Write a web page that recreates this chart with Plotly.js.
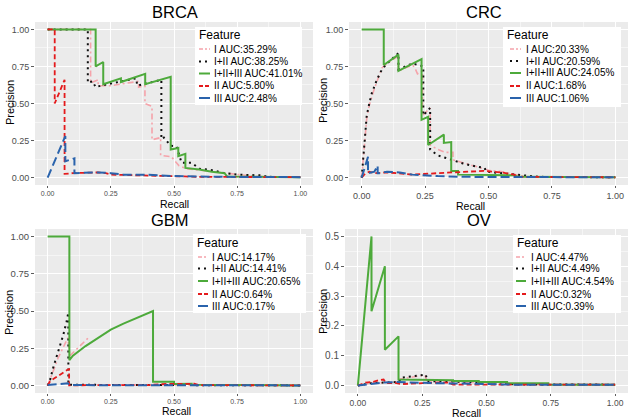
<!DOCTYPE html>
<html><head><meta charset="utf-8">
<script src="https://cdn.plot.ly/plotly-3.0.1.min.js"></script>
<style>html,body{margin:0;padding:0;background:#fff}</style>
</head><body>
<div id="chart" style="width:633px;height:418px"></div>
<script>
// ---------- DATA ----------
const features = ['I', 'I+II', 'I+II+III', 'II', 'III'];
const panelNames = ['BRCA', 'CRC', 'GBM', 'OV'];
const BRCA_AUC = ['35.29%', '38.25%', '41.01%', '5.80%', '2.48%'];
const CRC_AUC  = ['20.33%', '20.59%', '24.05%', '1.68%', '1.06%'];
const GBM_AUC  = ['14.17%', '14.41%', '20.65%', '0.64%', '0.17%'];
const OV_AUC   = ['4.47%', '4.49%', '4.54%', '0.32%', '0.39%'];
const xTickVals = [0, 0.25, 0.5, 0.75, 1];
const xTickText = ['0.00', '0.25', '0.50', '0.75', '1.00'];
const yTickVals = [0, 0.25, 0.5, 0.75, 1];
const yTickText = ['0.00', '0.25', '0.50', '0.75', '1.00'];
const ovTickVals = [0, 0.1, 0.2, 0.3, 0.4, 0.5];
const ovTickText = ['0.0', '0.1', '0.2', '0.3', '0.4', '0.5'];

// BRCA
const BRCA_I_R = [0,0.17,0.17,0.2,0.2,0.25,0.36,0.36,0.385,0.385,0.413,0.413,0.447,0.447,0.49,0.52,0.55,0.6,0.7,0.8,0.87,1];
const BRCA_I_P = [1,1,0.64,0.66,0.62,0.62,0.65,0.61,0.62,0.5,0.48,0.255,0.27,0.15,0.14,0.08,0.06,0.05,0.03,0.012,0.005,0.003];
const BRCA_I2_R = [0,0.159,0.159,0.178,0.19,0.21,0.35,0.355,0.45,0.45,0.46,0.487,0.51,0.53,0.57,0.6,0.65,0.7,0.75,0.85,0.87,1];
const BRCA_I2_P = [1,1,0.64,0.65,0.61,0.62,0.67,0.62,0.66,0.26,0.27,0.215,0.21,0.1,0.1,0.06,0.05,0.03,0.02,0.015,0.005,0.003];
const BRCA_I3_R = [0,0.19,0.19,0.22,0.22,0.29,0.29,0.386,0.386,0.487,0.487,0.517,0.517,0.545,0.545,0.6,0.65,0.7,0.71,1];
const BRCA_I3_P = [1,1,0.75,0.78,0.63,0.67,0.645,0.70,0.63,0.68,0.19,0.2,0.145,0.16,0.065,0.055,0.04,0.03,0.008,0.003];
const BRCA_II_R = [0,0.028,0.028,0.067,0.067,0.1,0.2,0.23,0.25,0.4,0.5,0.6,1];
const BRCA_II_P = [1,1,0.5,0.66,0.025,0.03,0.035,0.03,0.02,0.015,0.008,0.005,0.003];
const BRCA_III_R = [0,0.07,0.07,0.106,0.106,0.2,0.25,0.3,0.4,0.5,0.7,1];
const BRCA_III_P = [0,0.28,0.11,0.13,0.03,0.035,0.03,0.02,0.02,0.01,0.005,0.003];

// CRC
const CRC_I_R = [0,0.005,0.01,0.02,0.03,0.05,0.08,0.1,0.145,0.145,0.2,0.21,0.22,0.24,0.24,0.27,0.27,0.3,0.33,0.36,0.36,0.4,0.45,0.5,0.55,0.6,0.65,1];
const CRC_I_P = [0,0.1,0.22,0.4,0.49,0.6,0.74,0.77,0.82,0.72,0.76,0.74,0.7,0.72,0.42,0.47,0.22,0.19,0.17,0.17,0.12,0.1,0.07,0.05,0.04,0.02,0.005,0.002];
const CRC_I2_R = [0,0.005,0.01,0.015,0.02,0.03,0.04,0.06,0.08,0.1,0.12,0.145,0.145,0.2,0.243,0.243,0.27,0.27,0.3,0.35,0.4,0.45,0.485,0.49,0.55,0.6,0.65,0.7,1];
const CRC_I2_P = [0,0.12,0.25,0.34,0.42,0.5,0.57,0.66,0.73,0.77,0.8,0.84,0.73,0.77,0.75,0.42,0.47,0.19,0.15,0.12,0.095,0.075,0.065,0.04,0.03,0.02,0.01,0.005,0.002];
const CRC_I3_R = [0,0.087,0.087,0.145,0.145,0.236,0.236,0.262,0.262,0.324,0.324,0.353,0.353,0.38,0.38,0.6,0.62,1];
const CRC_I3_P = [1,1,0.76,0.83,0.72,0.80,0.39,0.41,0.22,0.29,0.234,0.24,0.045,0.045,0.02,0.015,0.005,0.002];
const CRC_II_R = [0,0.01,0.03,0.05,0.1,0.15,0.2,0.3,0.4,0.48,0.55,0.6,0.62,1];
const CRC_II_P = [0,0.02,0.04,0.03,0.035,0.03,0.02,0.03,0.04,0.045,0.035,0.02,0.005,0.002];
const CRC_III_R = [0,0.01,0.025,0.025,0.05,0.063,0.063,0.07,0.1,0.15,0.2,0.3,0.4,1];
const CRC_III_P = [0,0.05,0.14,0.03,0.04,0.08,0.03,0.03,0.04,0.035,0.02,0.01,0.005,0.002];

// GBM (null = no line drawn between the points)
const GBM_I_R = [0,0.01,0.04,0.08,0.088,0.167,null,0.17,0.3,1];
const GBM_I_P = [0,0.04,0.18,0.32,0.2,0.33,null,0.005,0.004,0.001];
const GBM_I2_R = [0,0.01,0.022,0.042,0.062,0.075,0.082,0.082,0.2,1];
const GBM_I2_P = [0,0.04,0.12,0.23,0.34,0.43,0.49,0.005,0.004,0.001];
const GBM_I3_R = [0,0.086,0.086,0.1,0.15,0.2,0.25,0.3,0.35,0.417,0.417,0.5,0.5,0.57,0.57,0.67,0.67,1];
const GBM_I3_P = [1,1,0.17,0.2,0.265,0.32,0.375,0.415,0.45,0.5,0.025,0.025,0.01,0.012,0.006,0.005,0.001,0.001];
const GBM_II_R = [0,0.01,0.08,0.085,0.085,0.4,0.45,0.58,0.6,1];
const GBM_II_P = [0,0.03,0.107,0.11,0.002,0.003,0.01,0.012,0.003,0.001];
const GBM_III_R = [0,0.04,0.08,0.09,0.5,1];
const GBM_III_P = [0.003,0.008,0.015,0.003,0.002,0.001];

// OV
const OV_I_R = [0,0.05,0.1,0.16,0.165,0.26,0.27,0.4,0.57,0.6,1];
const OV_I_P = [0,0.008,0.01,0.012,0.022,0.035,0.013,0.01,0.008,0.004,0.003];
const OV_I2_R = [0,0.05,0.1,0.16,0.167,0.264,0.27,0.4,0.57,0.6,1];
const OV_I2_P = [0,0.008,0.01,0.012,0.026,0.037,0.015,0.012,0.01,0.004,0.003];
const OV_I3_R = [0,0.053,0.053,0.105,0.105,0.158,0.158,0.3,0.3,0.37,0.37,0.47,0.47,0.58,0.58,0.74,0.74,1];
const OV_I3_P = [0,0.5,0.249,0.4,0.12,0.165,0.02,0.02,0.018,0.018,0.015,0.015,0.012,0.012,0.008,0.008,0.003,0.003];
const OV_II_R = [0,0.03,0.06,0.08,0.1,0.11,0.15,0.17,0.25,0.35,0.37,0.5,1];
const OV_II_P = [0,0.01,0.012,0.018,0.02,0.008,0.008,0.005,0.008,0.01,0.003,0.003,0.003];
const OV_III_R = [0,0.05,0.1,0.15,0.2,0.3,0.5,0.6,1];
const OV_III_P = [0,0.005,0.01,0.012,0.01,0.008,0.005,0.003,0.003];

// ---------- STYLE ----------
const colors = ['#F5A3AA', '#111111', '#4DAA3B', '#E41A1C', '#2A63AC'];
const dashes = ['6px,3px,2px,3px', '2px,4px', 'solid', '5px,3px', '9px,4px'];
const legDashes = ['4px,2px,2px,2px', '2px,4px', 'solid', '4px,2px', 'solid'];
const widths = [1.6, 2, 2, 1.8, 2];
const FONT = 'Liberation Sans, Arial, Helvetica, sans-serif';
const W = 633, H = 418;
const px = x => x / W, py = y => 1 - y / H;

const seriesData = {
  BRCA: [[BRCA_I_R,BRCA_I_P],[BRCA_I2_R,BRCA_I2_P],[BRCA_I3_R,BRCA_I3_P],[BRCA_II_R,BRCA_II_P],[BRCA_III_R,BRCA_III_P]],
  CRC:  [[CRC_I_R,CRC_I_P],[CRC_I2_R,CRC_I2_P],[CRC_I3_R,CRC_I3_P],[CRC_II_R,CRC_II_P],[CRC_III_R,CRC_III_P]],
  GBM:  [[GBM_I_R,GBM_I_P],[GBM_I2_R,GBM_I2_P],[GBM_I3_R,GBM_I3_P],[GBM_II_R,GBM_II_P],[GBM_III_R,GBM_III_P]],
  OV:   [[OV_I_R,OV_I_P],[OV_I2_R,OV_I2_P],[OV_I3_R,OV_I3_P],[OV_II_R,OV_II_P],[OV_III_R,OV_III_P]]
};
const aucs = {BRCA: BRCA_AUC, CRC: CRC_AUC, GBM: GBM_AUC, OV: OV_AUC};

// layout geometry in pixels
const geo = {
  BRCA: {id:'', box:[35,313,22,185], yr:[-0.05,1.05], ov:false, xtf:7, ytf:9, title:[175,12], xt:[174,204], yt:[10,103],
         leg:{x0:195,x1:302,y0:27,y1:105,ty:35,rows:[49,61.5,73.5,86,98],s0:199,s1:210,tx:212}},
  CRC:  {id:'2', box:[349,628,22,185], yr:[-0.05,1.05], ov:false, xtf:9, ytf:9, title:[484,12], xt:[470,206], yt:[323,101],
         leg:{x0:503,x1:621,y0:27,y1:107,ty:35,rows:[49,61,73,86,98],s0:510,s1:521,tx:524}},
  GBM:  {id:'3', box:[35,313,229,393], yr:[-0.05,1.05], ov:false, xtf:7, ytf:9.5, title:[170,220], xt:[176,411], yt:[9,313],
         leg:{x0:193,x1:306,y0:234,y1:313,ty:243,rows:[257,268.5,281,294,306],s0:198,s1:208,tx:210}},
  OV:   {id:'4', box:[345,628,229,393], yr:[-0.025,0.525], ov:true, xtf:8.5, ytf:10, title:[479,220], xt:[466,412.5], yt:[323,312],
         leg:{x0:513,x1:621,y0:235,y1:313,ty:243,rows:[257,268.5,281,294,306],s0:516,s1:526,tx:529}}
};

const traces = [];
const layout = {
  width: W, height: H,
  margin: {l:0, r:0, t:0, b:0},
  paper_bgcolor: '#ffffff',
  plot_bgcolor: '#EBEBEB',
  showlegend: false,
  font: {family: FONT, color: '#000'},
  annotations: [], shapes: []
};

panelNames.forEach(name => {
  const g = geo[name];
  const xa = 'x' + g.id, ya = 'y' + g.id;
  seriesData[name].forEach((s, i) => {
    traces.push({
      type: 'scatter', mode: 'lines', x: s[0], y: s[1], connectgaps: false,
      xaxis: xa, yaxis: ya, name: features[i] + ' AUC:' + aucs[name][i],
      line: {color: colors[i], dash: dashes[i], width: widths[i]},
      hoverinfo: 'skip'
    });
  });
  const [l, r, t, b] = g.box;
  layout['xaxis' + g.id] = {
    domain: [px(l), px(r)], anchor: ya, range: [-0.05, 1.05],
    tickvals: xTickVals, ticktext: xTickText,
    tickfont: {size: g.xtf, color: '#4D4D4D'},
    ticks: 'outside', ticklen: 2, tickcolor: '#333', tickwidth: 0.8,
    showgrid: true, gridcolor: '#FFFFFF', gridwidth: 1,
    minor: {showgrid: true, gridcolor: '#FFFFFF', gridwidth: 0.5, tickvals: [0.125, 0.375, 0.625, 0.875]},
    zeroline: false, showline: false, fixedrange: true,
    title: {text: ''}
  };
  layout['yaxis' + g.id] = {
    domain: [py(b), py(t)], anchor: xa, range: g.yr,
    tickvals: g.ov ? ovTickVals : yTickVals, ticktext: g.ov ? ovTickText : yTickText,
    tickfont: {size: g.ytf, color: '#4D4D4D'},
    ticks: 'outside', ticklen: 3, tickcolor: '#333', tickwidth: 0.8,
    showgrid: true, gridcolor: '#FFFFFF', gridwidth: 1,
    minor: {showgrid: true, gridcolor: '#FFFFFF', gridwidth: 0.5,
            tickvals: g.ov ? [0.05, 0.15, 0.25, 0.35, 0.45] : [0.125, 0.375, 0.625, 0.875]},
    zeroline: false, showline: false, fixedrange: true,
    title: {text: ''}
  };
  // panel title
  layout.annotations.push({text: name, x: px(g.title[0]), y: py(g.title[1]), xref: 'paper', yref: 'paper',
    xanchor: 'center', yanchor: 'middle', showarrow: false, font: {size: 16.5, color: '#000'}});
  // axis titles
  layout.annotations.push({text: 'Recall', x: px(g.xt[0]), y: py(g.xt[1]), xref: 'paper', yref: 'paper',
    xanchor: 'center', yanchor: 'middle', showarrow: false, font: {size: 10.5, color: '#000'}});
  layout.annotations.push({text: 'Precision', x: px(g.yt[0]), y: py(g.yt[1]), xref: 'paper', yref: 'paper',
    xanchor: 'center', yanchor: 'middle', textangle: -90, showarrow: false, font: {size: 11, color: '#000'}});
  // legend (ggplot style box)
  const L = g.leg;
  layout.shapes.push({type: 'rect', xref: 'paper', yref: 'paper', x0: px(L.x0), x1: px(L.x1), y0: py(L.y1), y1: py(L.y0),
    fillcolor: '#FFFFFF', line: {width: 0}, layer: 'above'});
  layout.annotations.push({text: 'Feature', x: px(L.x0 + 2), y: py(L.ty), xref: 'paper', yref: 'paper',
    xanchor: 'left', yanchor: 'middle', showarrow: false, font: {size: 12, color: '#000'}});
  features.forEach((f, i) => {
    layout.shapes.push({type: 'line', xref: 'paper', yref: 'paper', x0: px(L.s0), x1: px(L.s1), y0: py(L.rows[i]), y1: py(L.rows[i]),
      line: {color: colors[i], dash: legDashes[i], width: widths[i]}, layer: 'above'});
    layout.annotations.push({text: f + ' AUC:' + aucs[name][i], x: px(L.tx), y: py(L.rows[i]), xref: 'paper', yref: 'paper',
      xanchor: 'left', yanchor: 'middle', showarrow: false, font: {size: 10, color: '#000'}});
  });
});

Plotly.newPlot('chart', traces, layout, {displayModeBar: false, staticPlot: true});
</script>
</body></html>
